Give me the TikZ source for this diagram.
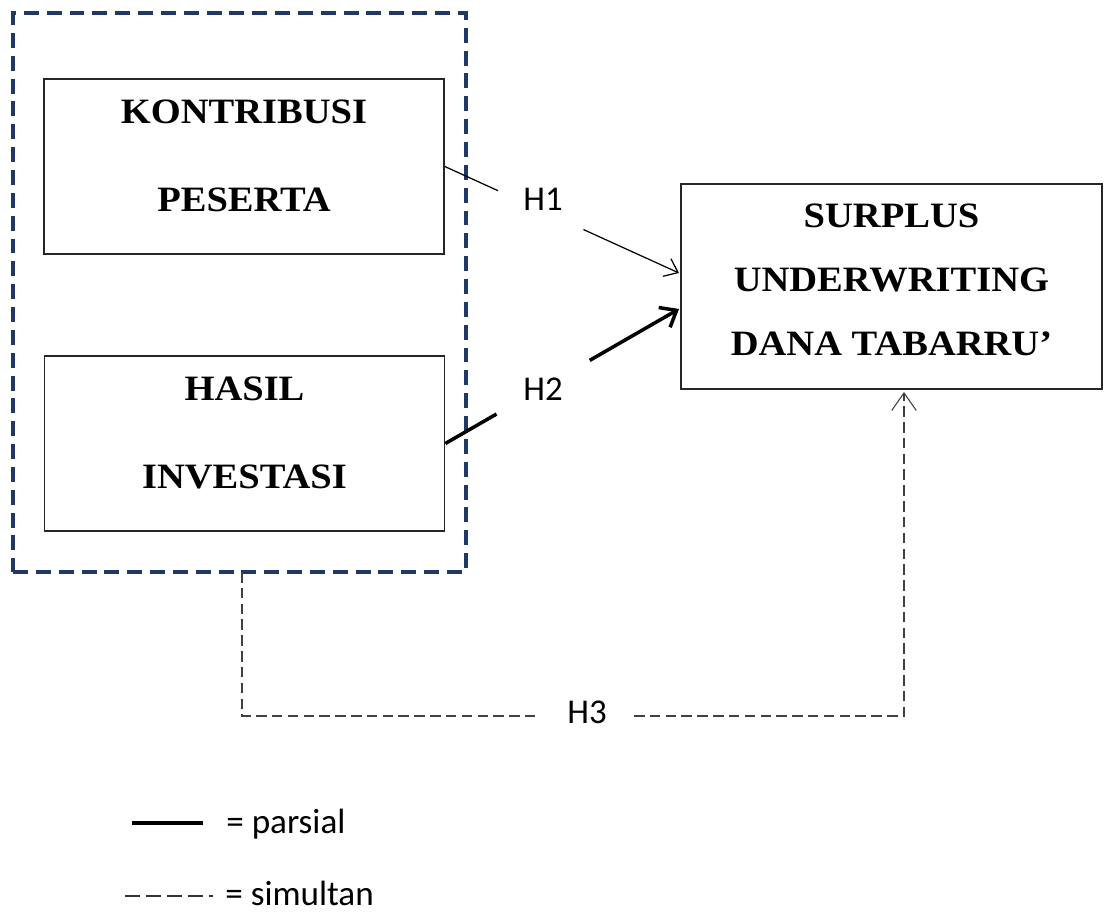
\documentclass[tikz,border=0pt]{standalone}
\usepackage{fontspec}
\setmainfont{Liberation Serif}
\newfontfamily\boxfont[FakeStretch=1.08]{Liberation Serif}
\newfontfamily\labfont{Carlito}
\usepackage{xcolor}
\usetikzlibrary{calc,arrows.meta}
\definecolor{navy}{HTML}{1F3864}

\begin{document}
\begin{tikzpicture}[x=0.02cm,y=-0.02cm,
		varbox/.style={draw=black!85,line width=1pt,minimum width=8cm,minimum height=3.5cm,inner sep=0pt},
		vartext/.style={align=center,inner sep=0pt,font=\boxfont\bfseries\fontsize{20.3}{50.5}\selectfont},
		hlabel/.style={inner sep=0pt,font=\labfont\fontsize{19.8}{23}\selectfont},
		thin arrow/.style={line width=0.7pt,-{Straight Barb[length=7pt,width=11pt]}},
		thick arrow/.style={line width=2pt,-{Straight Barb[length=8pt,width=13pt]}},
		simul/.style={line width=0.6pt,draw=black!75,dash pattern=on 6pt off 3pt}]
						\useasboundingbox (0,0) rectangle (1107,913);
						
						% group of independent variables
						\node (g) at (239.5,292.5) [draw=navy,line width=2pt,dash pattern=on 8.5pt off 4.5pt,
							minimum width=9.06cm,minimum height=11.18cm] {};
						
						\node (k) at (244,166.5) [varbox] {};
						\node (kt) at (244,156) [vartext] {KONTRIBUSI\\PESERTA};
						\node (h) at (244.5,443.5) [varbox] {};
						\node (ht) at (244.5,433) [vartext,font=\boxfont\bfseries\fontsize{20.3}{50}\selectfont] {HASIL\\INVESTASI};
						\node (s) at (891.5,286.5) [varbox,minimum width=8.42cm,minimum height=4.1cm] {};
						\node (st) at (891.5,280) [vartext,font=\boxfont\bfseries\fontsize{20.3}{36.3}\selectfont] {SURPLUS\\UNDERWRITING\\DANA TABARRU’};
						
						% partial paths
						\coordinate (s1) at (679,273);
						\coordinate (s2) at (679,309);
						\node (h1) at (543,199) [hlabel] {H1};
						\node (h2) at (543,389) [hlabel] {H2};
						\draw[line width=0.7pt] (k.east) - - ($(k.east)!0.227!(s1)$);
						\draw[thin arrow] ($(k.east)!0.592!(s1)$) - - (s1);
						\draw[line width=2pt] (h.east) - - ($(h.east)!0.219!(s2)$);
						\draw[thick arrow] ($(h.east)!0.618!(s2)$) - - (s2);
						
						% simultaneous path
						\node (h3) at (587,712) [hlabel] {H3};
						\coordinate (h3l) at (539,716);
						\coordinate (h3r) at (634,716);
						\coordinate (s3) at (904,392);
						\draw[simul] (242,572) - - (242,716) - - (h3l);
						\draw[simul,-{Straight Barb[length=10pt,width=14pt]}] (h3r) -| (s3);
						
						% legend
						\node (lp) at (226,833) [hlabel,anchor=base west,font=\labfont\fontsize{20}{23}\selectfont] {= parsial};
						\node (ls) at (225,905) [hlabel,anchor=base west,font=\labfont\fontsize{20}{23}\selectfont] {= simultan};
						\draw[line width=2.2pt] (132,823) - - (203,823);
						\draw[line width=0.9pt,draw=black!80,dash pattern=on 8.5pt off 3.4pt on 8.5pt off 3.4pt on 8.5pt off 3.4pt on 8.5pt off 3.4pt on 2.3pt off 20pt] (125,896) - - (220,896);
					\end{tikzpicture}
\end{document}
